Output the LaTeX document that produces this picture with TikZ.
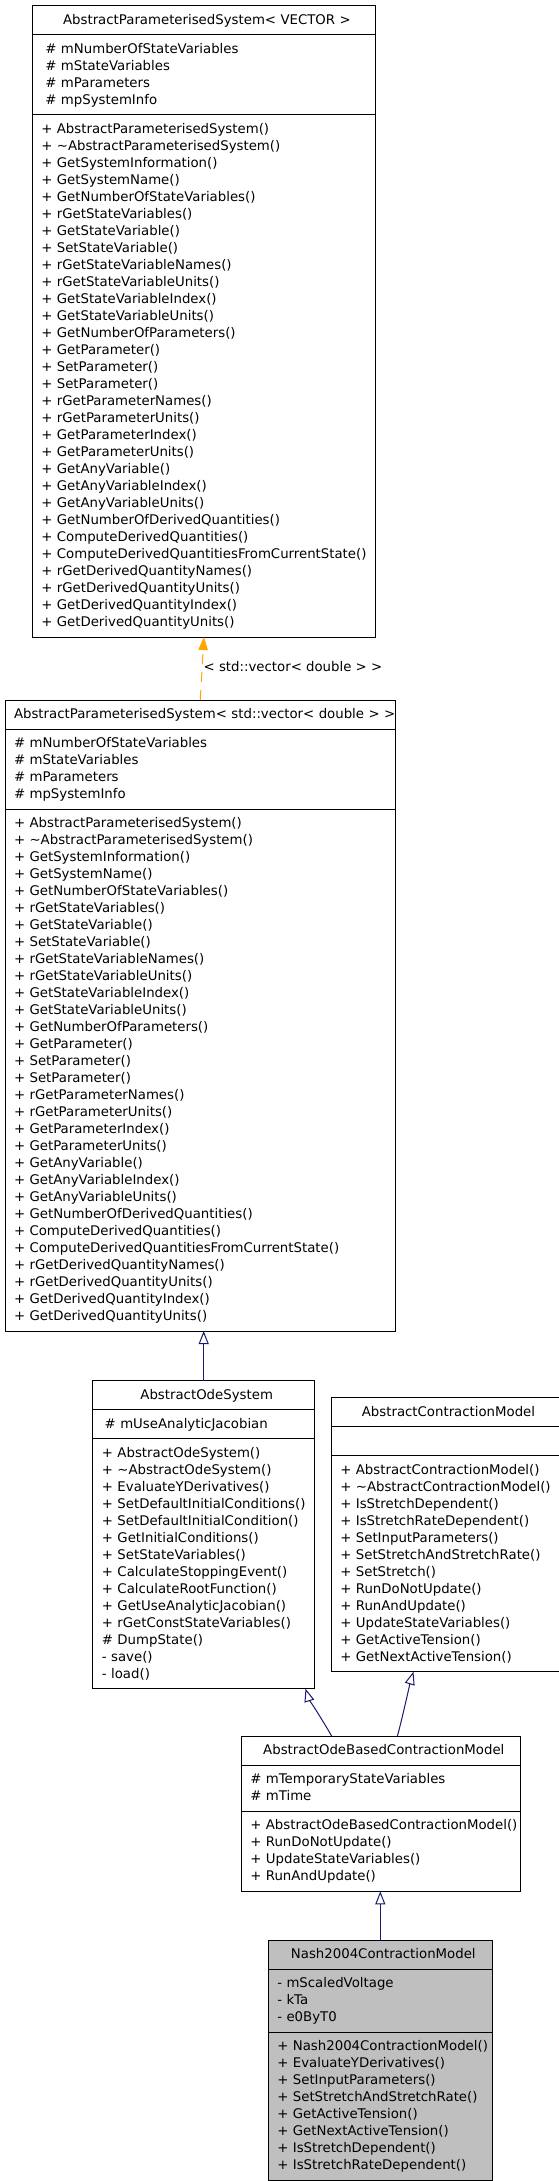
\documentclass[tikz,border=0pt]{standalone}
\usepackage{fontspec}
\setmainfont{DejaVu Sans}
\usepackage{tikz}
\usetikzlibrary{arrows.meta,shapes.multipart}

\definecolor{edgeblue}{RGB}{25,25,112}
\definecolor{tmplorange}{RGB}{255,165,0}
\definecolor{leafgray}{RGB}{191,191,191}

% one text line of a class box: height 12.5, depth 4.5, never wrapped
\newcommand{\ls}{\rule[-4.5pt]{0pt}{17pt}}
\newcommand{\mline}[1]{\hbox{\ls#1}\par}
\newcommand{\mtitle}[1]{\hbox to\hsize{\hfil\hspace{6pt}\ls#1\hfil}\par}

% members shared by both AbstractParameterisedSystem boxes
\newcommand{\apsattrs}{%
  \mline{\# mNumberOfStateVariables}
  \mline{\# mStateVariables}
  \mline{\# mParameters}
  \mline{\# mpSystemInfo}}
\newcommand{\apsmethods}{%
  \mline{+ AbstractParameterisedSystem()}
  \mline{+ \textasciitilde AbstractParameterisedSystem()}
  \mline{+ GetSystemInformation()}
  \mline{+ GetSystemName()}
  \mline{+ GetNumberOfStateVariables()}
  \mline{+ rGetStateVariables()}
  \mline{+ GetStateVariable()}
  \mline{+ SetStateVariable()}
  \mline{+ rGetStateVariableNames()}
  \mline{+ rGetStateVariableUnits()}
  \mline{+ GetStateVariableIndex()}
  \mline{+ GetStateVariableUnits()}
  \mline{+ GetNumberOfParameters()}
  \mline{+ GetParameter()}
  \mline{+ SetParameter()}
  \mline{+ SetParameter()}
  \mline{+ rGetParameterNames()}
  \mline{+ rGetParameterUnits()}
  \mline{+ GetParameterIndex()}
  \mline{+ GetParameterUnits()}
  \mline{+ GetAnyVariable()}
  \mline{+ GetAnyVariableIndex()}
  \mline{+ GetAnyVariableUnits()}
  \mline{+ GetNumberOfDerivedQuantities()}
  \mline{+ ComputeDerivedQuantities()}
  \mline{+ ComputeDerivedQuantitiesFromCurrentState()}
  \mline{+ rGetDerivedQuantityNames()}
  \mline{+ rGetDerivedQuantityUnits()}
  \mline{+ GetDerivedQuantityIndex()}
  \mline{+ GetDerivedQuantityUnits()}}

\begin{document}
\begin{tikzpicture}[
  x=1pt, y=-1pt,
  classbox/.style={draw, line width=1pt, outer sep=0pt, anchor=north west,
                   rectangle split, rectangle split parts=3,
                   inner xsep=9pt, inner ysep=5.5pt,
                   font=\fontsize{13.3}{17}\selectfont},
  inherit/.style={draw=edgeblue, line width=1pt,
                  -{Triangle[length=13pt, width=10pt, fill=white]}},
  realize/.style={draw=tmplorange, line width=1pt, dash pattern=on 10pt off 8pt,
                  -{Triangle[length=13pt, width=9.5pt]}}
]
\useasboundingbox (0,0) rectangle (559,2181);
\fill[white] (0,0) rectangle (559,2181);

%--- template and its instantiation ------------------------------------------
\node[classbox, text width=317pt] (aps) at (32.3,6)
  {\mtitle{AbstractParameterisedSystem< VECTOR >}
   \nodepart{two}\apsattrs
   \nodepart{three}\apsmethods};

\node[classbox, text width=372.5pt] (apsvec) at (5,700)
  {\mline{AbstractParameterisedSystem< std::vector< double > >}
   \nodepart{two}\apsattrs
   \nodepart{three}\apsmethods};

\draw[realize] (apsvec.north) -- node[pos=0.53, right, inner sep=1pt,
  font=\fontsize{13.3}{17}\selectfont] (tmplabel) {< std::vector< double > >}
  (aps.south);

%--- ODE system and contraction model ----------------------------------------
\node[classbox, text width=198pt] (aos) at (92.9,1380.7)
  {\mtitle{AbstractOdeSystem}
   \nodepart{two}\mline{\# mUseAnalyticJacobian}
   \nodepart{three}\mline{+ AbstractOdeSystem()}
   \mline{+ \textasciitilde AbstractOdeSystem()}
   \mline{+ EvaluateYDerivatives()}
   \mline{+ SetDefaultInitialConditions()}
   \mline{+ SetDefaultInitialCondition()}
   \mline{+ GetInitialConditions()}
   \mline{+ SetStateVariables()}
   \mline{+ CalculateStoppingEvent()}
   \mline{+ CalculateRootFunction()}
   \mline{+ GetUseAnalyticJacobian()}
   \mline{+ rGetConstStateVariables()}
   \mline{\# DumpState()}
   \mline{- save()}
   \mline{- load()}};

\node[classbox, text width=207pt] (acm) at (331.3,1397.7)
  {\mtitle{AbstractContractionModel}
   \nodepart{two}\mline{}
   \nodepart{three}\mline{+ AbstractContractionModel()}
   \mline{+ \textasciitilde AbstractContractionModel()}
   \mline{+ IsStretchDependent()}
   \mline{+ IsStretchRateDependent()}
   \mline{+ SetInputParameters()}
   \mline{+ SetStretchAndStretchRate()}
   \mline{+ SetStretch()}
   \mline{+ RunDoNotUpdate()}
   \mline{+ RunAndUpdate()}
   \mline{+ UpdateStateVariables()}
   \mline{+ GetActiveTension()}
   \mline{+ GetNextActiveTension()}};

\draw[inherit] (aos.north) -- (aos.north |- apsvec.south);

%--- ODE based contraction model ---------------------------------------------
\node[classbox, text width=261pt] (aobcm) at (241.3,1736.3)
  {\mtitle{AbstractOdeBasedContractionModel}
   \nodepart{two}\mline{\# mTemporaryStateVariables}
   \mline{\# mTime}
   \nodepart{three}\mline{+ AbstractOdeBasedContractionModel()}
   \mline{+ RunDoNotUpdate()}
   \mline{+ UpdateStateVariables()}
   \mline{+ RunAndUpdate()}};

\draw[inherit] ([xshift=-49pt]aobcm.north)
  .. controls +(-5,-9) and +(2.5,8) .. ([xshift=-9pt]aos.south east);
\draw[inherit] ([xshift=16.5pt]aobcm.north)
  .. controls +(3,-10) and +(-3,10) .. ([xshift=-32pt]acm.south);

%--- Nash 2004 ----------------------------------------------------------------
\node[classbox, text width=206pt, fill=leafgray] (nash) at (268.3,1940.3)
  {\mtitle{Nash2004ContractionModel}
   \nodepart{two}\mline{- mScaledVoltage}
   \mline{- kTa}
   \mline{- e0ByT0}
   \nodepart{three}\mline{+ Nash2004ContractionModel()}
   \mline{+ EvaluateYDerivatives()}
   \mline{+ SetInputParameters()}
   \mline{+ SetStretchAndStretchRate()}
   \mline{+ GetActiveTension()}
   \mline{+ GetNextActiveTension()}
   \mline{+ IsStretchDependent()}
   \mline{+ IsStretchRateDependent()}};

\draw[inherit] (nash.north) -- (nash.north |- aobcm.south);

\end{tikzpicture}
\end{document}
